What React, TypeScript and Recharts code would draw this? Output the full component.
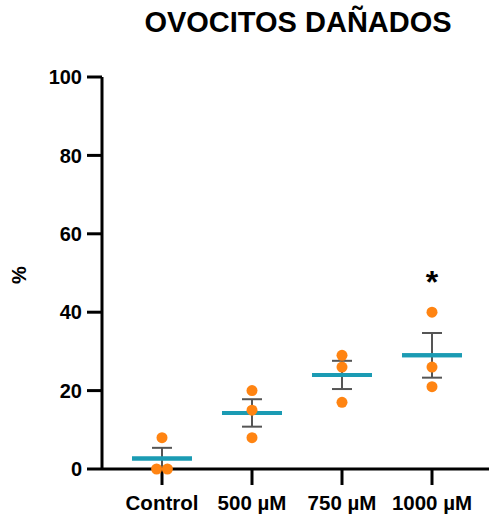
import React from 'react';
import { ComposedChart, Scatter, XAxis, YAxis, ErrorBar } from 'recharts';

const categories = ['Control', '500 µM', '750 µM', '1000 µM'];
const pointValues = [
  [8, 0, 0],
  [20, 15, 8],
  [29, 26, 17],
  [40, 26, 21],
];
// horizontal spread (in category units) for overlapping points
const pointSpread = [
  [0, -0.06, 0.06],
  [0, 0, 0],
  [0, 0, 0],
  [0, 0, 0],
];
const means = [2.7, 14.3, 24, 29];
const sems = [2.7, 3.5, 3.6, 5.7];
const yTicks = [0, 20, 40, 60, 80, 100];
const significance = [{ x: 4, y: 45, label: '*' }];

const FONT = '"Liberation Sans", Arial, sans-serif';

const points = pointValues.flatMap((vals, i) =>
  vals.map((v, j) => ({ x: i + 1 + pointSpread[i][j], y: v }))
);
const meanData = means.map((m, i) => ({ x: i + 1, y: m, err: sems[i] }));

const MeanShape = (props: any) => {
  const { cx, cy } = props;
  return <line x1={cx - 30} x2={cx + 30} y1={cy} y2={cy} stroke="#1b9bb3" strokeWidth={4} />;
};

const DotShape = (props: any) => {
  const { cx, cy } = props;
  return <circle cx={cx} cy={cy} r={5.5} fill="#ff8412" />;
};

const StarShape = (props: any) => {
  const { cx, cy, payload } = props;
  return (
    <text x={cx} y={cy} textAnchor="middle" fontFamily={FONT} fontWeight="bold" fontSize={32} fill="#000">
      {payload.label}
    </text>
  );
};

export default function App() {
  return (
    <div style={{ position: 'absolute', left: 0, top: 0, width: 489, height: 515, background: '#fff' }}>
      <svg width={489} height={515} style={{ position: 'absolute', left: 0, top: 0 }}>
        <text x={298} y={32} textAnchor="middle" fontFamily={FONT} fontWeight="bold" fontSize={29} fill="#000">
          OVOCITOS DAÑADOS
        </text>
        <text
          transform="translate(26 275) rotate(-90)"
          textAnchor="middle"
          fontFamily={FONT}
          fontWeight="bold"
          fontSize={20}
          fill="#000"
        >
          %
        </text>
      </svg>
      <div style={{ position: 'absolute', left: 0, top: 0 }}>
        <ComposedChart width={489} height={515} margin={{ top: 77, right: 0, bottom: 0, left: 0 }}>
          <XAxis
            type="number"
            dataKey="x"
            domain={[1 - 60 / 90, 1 + 327 / 90]}
            ticks={[1, 2, 3, 4]}
            tickFormatter={(v: number) => categories[v - 1]}
            allowDataOverflow
            height={46}
            tickSize={16}
            tickMargin={10}
            axisLine={{ stroke: '#000', strokeWidth: 3 }}
            tickLine={{ stroke: '#000', strokeWidth: 3 }}
            tick={{ fill: '#000', fontSize: 20.5, fontWeight: 'bold', fontFamily: FONT }}
            interval={0}
          />
          <YAxis
            type="number"
            dataKey="y"
            domain={[0, 100]}
            ticks={yTicks}
            width={102}
            tickSize={15}
            tickMargin={5}
            axisLine={{ stroke: '#000', strokeWidth: 3 }}
            tickLine={{ stroke: '#000', strokeWidth: 3 }}
            tick={{ fill: '#000', fontSize: 20, fontWeight: 'bold', fontFamily: FONT }}
          />
          <Scatter data={meanData} dataKey="y" shape={<MeanShape />} isAnimationActive={false}>
            <ErrorBar dataKey="err" direction="y" width={10} stroke="#555" strokeWidth={2} />
          </Scatter>
          <Scatter data={meanData} dataKey="y" shape={<MeanShape />} isAnimationActive={false} />
          <Scatter data={points} dataKey="y" shape={<DotShape />} isAnimationActive={false} />
          <Scatter data={significance} dataKey="y" shape={<StarShape />} isAnimationActive={false} />
        </ComposedChart>
      </div>
    </div>
  );
}
